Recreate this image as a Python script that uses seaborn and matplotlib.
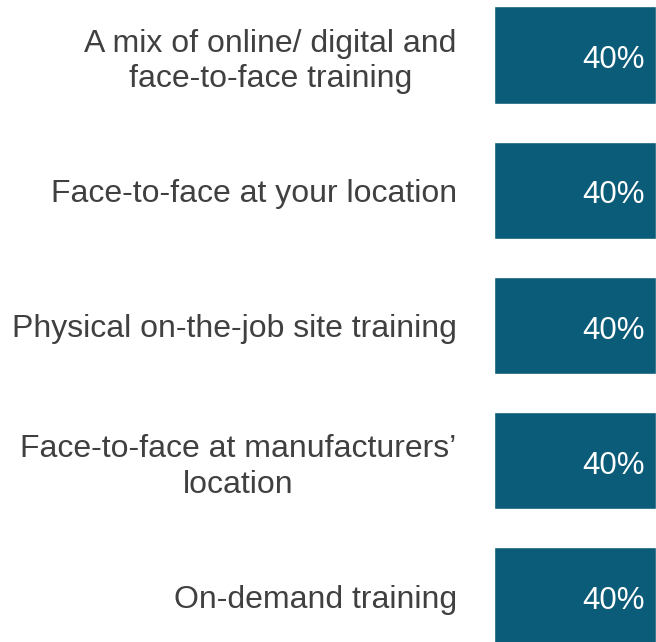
import matplotlib
matplotlib.use("Agg")
import matplotlib.pyplot as plt
import seaborn as sns
import pandas as pd

# ── Data ─────────────────────────────────────────────────────
categories = [
    "A mix of online/ digital and\nface-to-face training",
    "Face-to-face at your location",
    "Physical on-the-job site training",
    "Face-to-face at manufacturers\u2019\nlocation",
    "On-demand training",
]
shares = [0.40, 0.40, 0.40, 0.40, 0.40]

df = pd.DataFrame({"option": categories, "share": shares})

sns.set_style("white")
plt.rcParams["font.family"] = ["Liberation Sans", "DejaVu Sans"]

BAR = "#0B5C78"
TEXT = "#404040"

fig = plt.figure(figsize=(6.56, 6.42), dpi=100)
ax = fig.add_axes([493.5 / 656, 0, 1 - 493.5 / 656, 1])

sns.barplot(data=df, x="share", y="option", color=BAR, width=0.72,
            saturation=1, ax=ax)

ax.set_xlim(0, 0.40)
ax.set_ylim(4.34, -0.407)
ax.set_xticks([])
ax.set_xlabel("")
ax.set_ylabel("")
for s in ax.spines.values():
    s.set_visible(False)

ax.tick_params(axis="y", length=0, pad=26.5, labelsize=23, labelcolor=TEXT)
for lbl in ax.get_yticklabels():
    lbl.set_multialignment("center")
    lbl.set_linespacing(1.25)

for i, v in enumerate(shares):
    ax.annotate(f"{v:.0%}", (v, i), xytext=(-11, -5), textcoords="offset pixels",
                ha="right", va="center", color="white", fontsize=22.5,
                annotation_clip=False)

fig.savefig("out.png", dpi=100)
